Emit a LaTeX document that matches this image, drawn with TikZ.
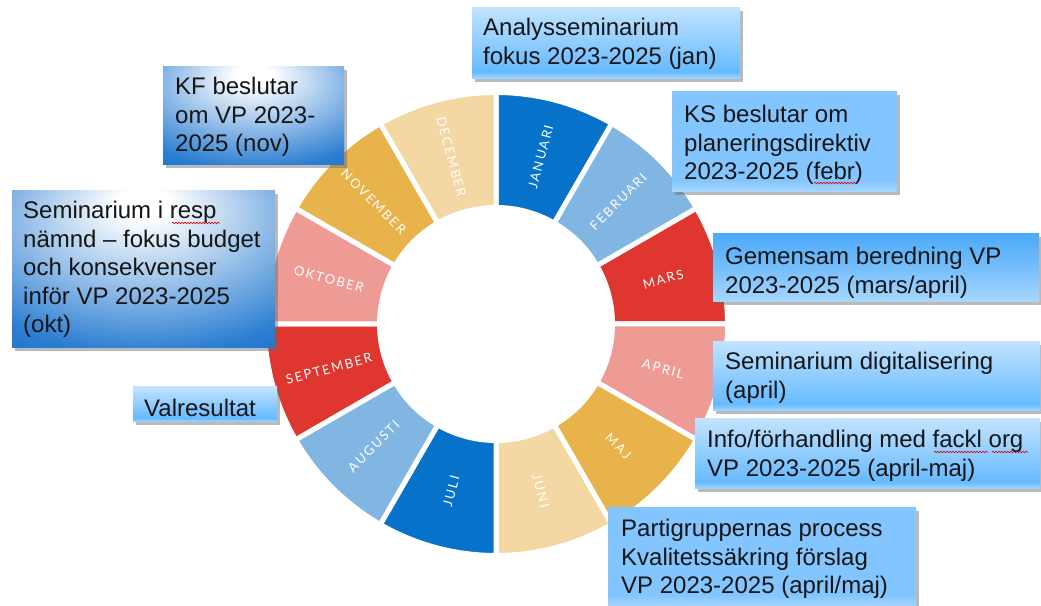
\documentclass[tikz,border=0pt]{standalone}
\usepackage{fontspec}
\setmainfont{Liberation Sans}
\newfontfamily\monthfont[LetterSpace=14]{Lato}
\usetikzlibrary{shadows,decorations.pathmorphing}
\definecolor{segBlue}{HTML}{0672C9}
\definecolor{segSky}{HTML}{82B6E2}
\definecolor{segRed}{HTML}{DF3730}
\definecolor{segPink}{HTML}{EE9B96}
\definecolor{segGold}{HTML}{E8B34B}
\definecolor{segTan}{HTML}{F3D8A3}
\definecolor{dBlue}{HTML}{0E6CCB}
\definecolor{lbTop}{HTML}{C2E3FF}
\definecolor{lbMid}{HTML}{66BAFF}
\definecolor{lbBot}{HTML}{A8D7FF}
\definecolor{lbSat}{HTML}{4CAAF8}
\definecolor{lbFlat}{HTML}{82C5FF}
\definecolor{txtCol}{HTML}{151515}
\pgfdeclareradialshading{glow}{\pgfpoint{0bp}{22bp}}{color(0bp)=(white); color(5bp)=(white); color(22bp)=(dBlue!42!white); color(40bp)=(dBlue!88!white); color(55bp)=(dBlue); color(100bp)=(dBlue)}
\pgfdeclareverticalshading{lightA}{100bp}{color(0bp)=(lbBot); color(25bp)=(lbBot); color(30bp)=(lbMid); color(75bp)=(lbTop); color(100bp)=(lbTop)}
\pgfdeclareverticalshading{lightB}{100bp}{color(0bp)=(lbBot); color(25bp)=(lbBot); color(50bp)=(lbSat!55!lbBot); color(75bp)=(lbSat); color(100bp)=(lbSat)}
\pgfdeclareverticalshading{lightC}{100bp}{color(0bp)=(lbBot); color(25bp)=(lbBot); color(31bp)=(lbFlat); color(100bp)=(lbFlat)}
\tikzset{
  card/.style={draw=none, inner sep=0pt, anchor=south west,
    drop shadow={shadow xshift=3pt, shadow yshift=-3pt, opacity=0.45, fill=black!60}},
  txt/.style={font=\fontsize{24}{28.5}\selectfont, text=txtCol, inner sep=0pt, anchor=base west},
  squiggle/.style={draw=red!85!black, line width=0.6pt, decorate,
    decoration={snake, amplitude=0.8pt, segment length=3pt}},
  seg/.style={draw=white, line width=5pt},
  month/.style={text=white, inner sep=0pt, font=\monthfont\fontsize{13}{13}\selectfont}
}
\begin{document}
\begin{tikzpicture}[x=1pt,y=1pt]
\useasboundingbox (0,0) rectangle (1041,605);
\coordinate (C) at (496,281);
% ring
\foreach \i/\name/\col in {0/JANUARI/segBlue,1/FEBRUARI/segSky,2/MARS/segRed,3/APRIL/segPink,4/MAJ/segGold,5/JUNI/segTan,6/JULI/segBlue,7/AUGUSTI/segSky,8/SEPTEMBER/segRed,9/OKTOBER/segPink,10/NOVEMBER/segGold,11/DECEMBER/segTan}{
  \pgfmathsetmacro\a{90-30*\i}
  \pgfmathsetmacro\b{60-30*\i}
  \pgfmathsetmacro\m{75-30*\i}
  \pgfmathsetmacro\r{ifthenelse(\m<-90,\m+180,\m)}
  \filldraw[seg, fill=\col] ([shift={(\a:231.5)}]C) arc[start angle=\a, end angle=\b, radius=231.5]
    -- ([shift={(\b:116.5)}]C) arc[start angle=\b, end angle=\a, radius=116.5] -- cycle;
  \node[month, rotate=\r] (m\i) at ([shift={(\m:173)}]C) {\name};
}
% boxes
\node[card, shading=lightA, minimum width=268, minimum height=71] (analys) at (472,526) {};
\node[txt] (analysT) at (483,569) {\parbox[t]{400pt}{Analysseminarium\\fokus 2023-2025 (jan)}};

\node[card, shading=glow, minimum width=181, minimum height=98] (kf) at (163,440) {};
\node[txt] (kfT) at (175,510) {\parbox[t]{400pt}{KF beslutar\\om VP 2023-\\2025 (nov)}};

\node[card, shading=lightC, minimum width=225, minimum height=100] (ks) at (672,413) {};
\node[txt] (ksT) at (684,482) {\parbox[t]{400pt}{KS beslutar om\\planeringsdirektiv\\2023-2025 (febr)}};

\node[card, shading=glow, minimum width=263, minimum height=157] (semi) at (12,257) {};
\node[txt] (semiT) at (23,386) {\parbox[t]{400pt}{Seminarium i resp\\nämnd -- fokus budget\\och konsekvenser\\inför VP 2023-2025\\(okt)}};

\node[card, shading=lightB, minimum width=326, minimum height=68] (gem) at (713,303) {};
\node[txt] (gemT) at (725,340) {\parbox[t]{400pt}{Gemensam beredning VP\\2023-2025 (mars/april)}};

\node[card, shading=lightA, minimum width=327, minimum height=69] (dig) at (713,194) {};
\node[txt] (digT) at (725,235) {\parbox[t]{400pt}{Seminarium digitalisering\\(april)}};

\node[card, shading=lightA, minimum width=144, minimum height=35] (val) at (133,183) {};
\node[txt] (valT) at (144,188) {Valresultat};

\node[card, shading=lightA, minimum width=345, minimum height=70] (info) at (695,116) {};
\node[txt] (infoT) at (707,157) {\parbox[t]{400pt}{Info/förhandling med fackl org\\VP 2023-2025 (april-maj)}};

\node[card, shading=lightC, minimum width=308, minimum height=99] (parti) at (608,-2) {};
\node[txt] (partiT) at (621,68) {\parbox[t]{400pt}{Partigruppernas process\\Kvalitetssäkring förslag\\VP 2023-2025 (april/maj)}};

% spell-check marks
\coordinate (sq1a) at (172,382); \coordinate (sq1b) at (220,382);
\coordinate (sq2a) at (814,422); \coordinate (sq2b) at (857,422);
\coordinate (sq3a) at (934,153); \coordinate (sq3b) at (988,153);
\coordinate (sq4a) at (992,153); \coordinate (sq4b) at (1028,153);
\draw[squiggle] (sq1a) -- (sq1b);
\draw[squiggle] (sq2a) -- (sq2b);
\draw[squiggle] (sq3a) -- (sq3b);
\draw[squiggle] (sq4a) -- (sq4b);
\end{tikzpicture}
\end{document}
